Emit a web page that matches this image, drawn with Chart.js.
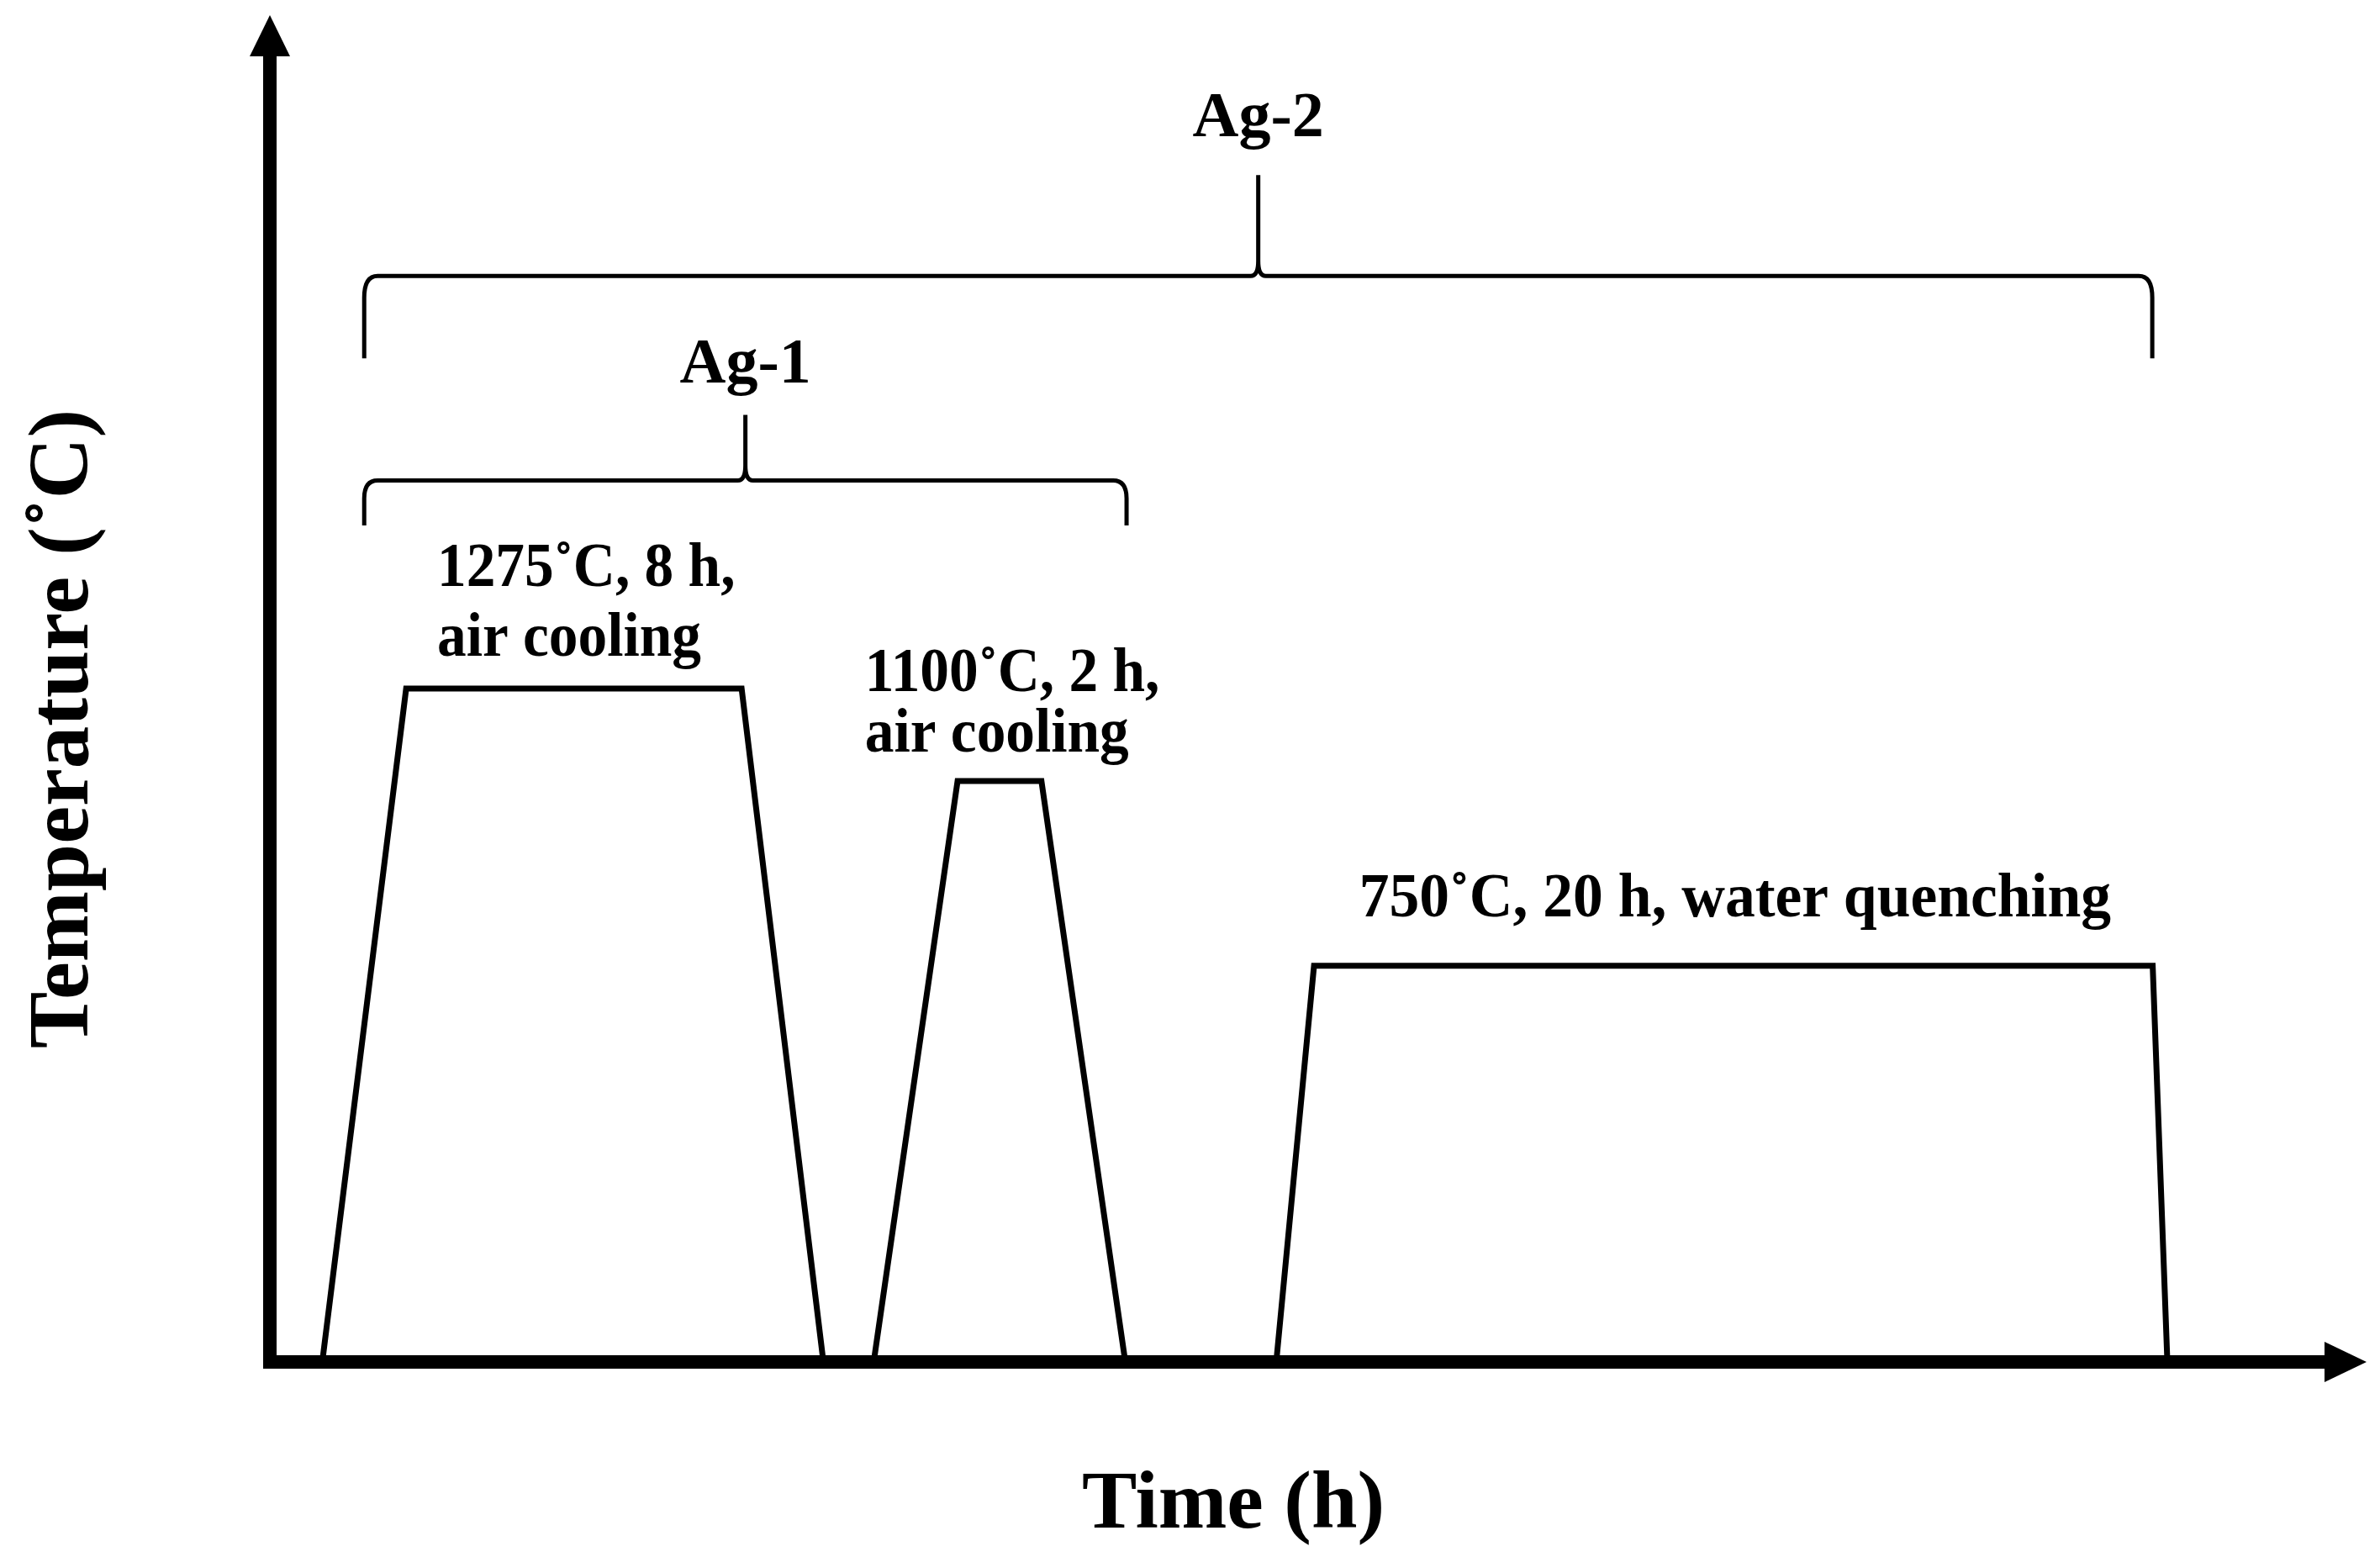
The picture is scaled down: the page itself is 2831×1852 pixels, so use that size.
<!DOCTYPE html>
<html><head><meta charset="utf-8">
<script src="https://cdn.jsdelivr.net/npm/chart.js@4.4.0/dist/chart.umd.min.js"></script>
<style>html,body{margin:0;padding:0;background:#fff;} #wrap{width:2831px;height:1852px;position:relative;background:#fff;}</style>
</head><body><div id="wrap"><canvas id="c" width="2831" height="1852"></canvas></div>
<script>
// ---- data (time in h, temperature in °C) ----
const seg1Time = [1.25, 3.25, 11.25, 13.2];
const seg1Temp = [0, 1275, 1275, 0];
const seg2Time = [14.4, 16.4, 18.4, 20.4];
const seg2Temp = [0, 1100, 1100, 0];
const seg3Time = [24.0, 24.9, 44.9, 45.25];
const seg3Temp = [0, 750, 750, 0];

const stepLabels = [["1275˚C, 8 h,", "air cooling"], ["1100˚C, 2 h,", "air cooling"], ["750˚C, 20 h, water quenching"]];
const stepLabelTime = [3.99, 14.19, 34.94];
const stepLabelAlign = ["left", "left", "center"];
const stepLabelTemp = [[1469, 1337], [1270, 1156], [844]];

const braceNames = ["Ag-1", "Ag-2"];
const braceStart = [2.25, 2.25];
const braceEnd = [20.43, 44.89];
const braceLegTemp = [1584, 1900];
const braceBarTemp = [1669, 2056];
const braceTipTemp = [1793, 2247];
const braceLabelTemp = [1854, 2321];

const xTitle = "Time (h)";
const yTitle = "Temperature (˚C)";
const xMin = 0, xMax = 50, yMin = 0, yMax = 2550;

function pts(t, v) { return t.map((x, i) => ({x: x, y: v[i]})); }

const lineStyle = {showLine: true, borderColor: "#000", borderWidth: 7, pointRadius: 0,
  pointHoverRadius: 0, fill: false, tension: 0, clip: false, borderJoinStyle: "miter", borderCapStyle: "butt"};

const decor = {
  id: "decor",
  afterDatasetsDraw(chart) {
    const ctx = chart.ctx, xs = chart.scales.x, ys = chart.scales.y;
    const X = v => xs.getPixelForValue(v), Y = v => ys.getPixelForValue(v);
    ctx.save();
    ctx.fillStyle = "#000"; ctx.strokeStyle = "#000";
    // axes with arrows
    const x0 = X(0), y0 = Y(0), aw = 16;
    const yTip = Y(yMax), yBase = yTip + 49;
    ctx.fillRect(x0 - aw / 2, yBase - 1, aw, y0 + aw / 2 - yBase + 1);
    ctx.beginPath(); ctx.moveTo(x0, yTip); ctx.lineTo(x0 - 24, yBase); ctx.lineTo(x0 + 24, yBase); ctx.closePath(); ctx.fill();
    const xTip = X(xMax), xBase = xTip - 50;
    ctx.fillRect(x0 - aw / 2, y0 - aw / 2, xBase + 1 - (x0 - aw / 2), aw);
    ctx.beginPath(); ctx.moveTo(xTip, y0); ctx.lineTo(xBase, y0 - 24); ctx.lineTo(xBase, y0 + 24); ctx.closePath(); ctx.fill();

    // braces
    ctx.lineWidth = 5; ctx.lineJoin = "round"; ctx.lineCap = "butt";
    for (let i = 0; i < braceNames.length; i++) {
      const x1 = X(braceStart[i]), x2 = X(braceEnd[i]), xc = (x1 + x2) / 2;
      const yl = Y(braceLegTemp[i]), yb = Y(braceBarTemp[i]), yt = Y(braceTipTemp[i]);
      const rx = 16, ry = Math.min(26, (yl - yb) * 0.4), c = 9;
      ctx.beginPath();
      ctx.moveTo(x1, yl); ctx.lineTo(x1, yb + ry);
      ctx.quadraticCurveTo(x1, yb, x1 + rx, yb);
      ctx.lineTo(xc - c, yb);
      ctx.quadraticCurveTo(xc, yb, xc, yb - c * 2);
      ctx.lineTo(xc, yt);
      ctx.moveTo(xc, yb - c * 2);
      ctx.quadraticCurveTo(xc, yb, xc + c, yb);
      ctx.lineTo(x2 - rx, yb);
      ctx.quadraticCurveTo(x2, yb, x2, yb + ry);
      ctx.lineTo(x2, yl);
      ctx.stroke();
      ctx.font = 'bold 76px "Liberation Serif", "Times New Roman", serif';
      ctx.textAlign = "center"; ctx.textBaseline = "alphabetic";
      ctx.fillText(braceNames[i], xc, Y(braceLabelTemp[i]));
    }

    // step labels (slightly condensed, as in the original figure)
    ctx.font = 'bold 73px "Liberation Serif", "Times New Roman", serif';
    ctx.textBaseline = "alphabetic";
    const sx = 0.95;
    for (let i = 0; i < stepLabels.length; i++) {
      ctx.textAlign = stepLabelAlign[i];
      stepLabels[i].forEach((line, j) => {
        ctx.save();
        ctx.translate(X(stepLabelTime[i]), Y(stepLabelTemp[i][j]));
        ctx.scale(i === 2 ? 0.98 : sx, 1);
        ctx.fillText(line, 0, 0);
        ctx.restore();
      });
    }

    // axis titles
    ctx.font = 'bold 98px "Liberation Serif", "Times New Roman", serif';
    ctx.textAlign = "center";
    ctx.fillText(xTitle, 1467, 1817);
    ctx.font = 'bold 101px "Liberation Serif", "Times New Roman", serif';
    ctx.translate(104, 867); ctx.rotate(-Math.PI / 2);
    ctx.fillText(yTitle, 0, 0);
    ctx.restore();
  }
};

new Chart(document.getElementById("c"), {
  type: "scatter",
  data: {datasets: [
    Object.assign({label: "Step 1", data: pts(seg1Time, seg1Temp)}, lineStyle),
    Object.assign({label: "Step 2", data: pts(seg2Time, seg2Temp)}, lineStyle),
    Object.assign({label: "Step 3", data: pts(seg3Time, seg3Temp)}, lineStyle)
  ]},
  options: {
    responsive: false, animation: false, devicePixelRatio: 1,
    layout: {padding: {left: 321, right: 16, top: 18, bottom: 232}},
    plugins: {legend: {display: false}, tooltip: {enabled: false}, title: {display: false}},
    scales: {
      x: {type: "linear", min: xMin, max: xMax, display: false},
      y: {type: "linear", min: yMin, max: yMax, display: false}
    }
  },
  plugins: [decor]
});
</script></body></html>
